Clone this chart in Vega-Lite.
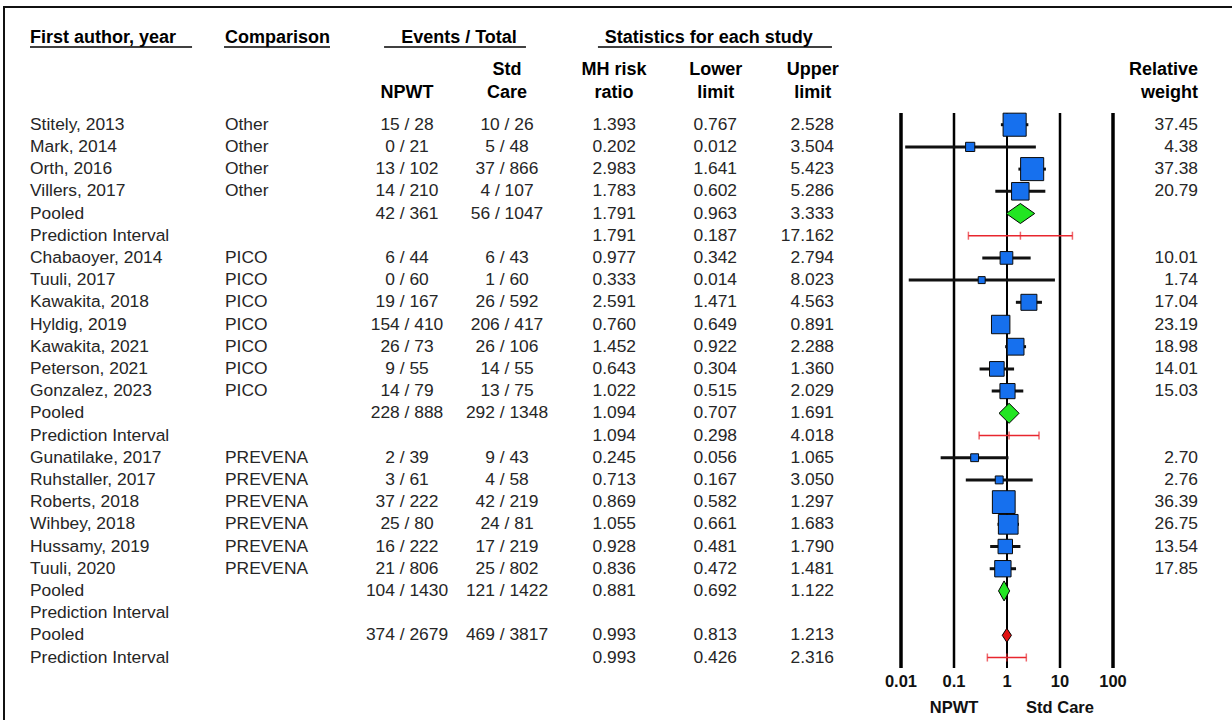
{
  "$schema": "https://vega.github.io/schema/vega-lite/v6.json",
  "width": 1232,
  "height": 720,
  "autosize": {"type": "fit", "contains": "padding"},
  "padding": {"left": 4, "top": 7, "right": -4, "bottom": -4},
  "background": "white",
  "config": {
    "view": {"stroke": "#111111", "strokeWidth": 2},
    "axis": {"disable": true},
    "legend": {"disable": true},
    "text": {"font": "Liberation Sans", "fontSize": 17.4, "color": "#262626"}
  },
  "datasets": {
    "rows": [
      {"row": 1, "label": "Stitely, 2013", "comp": "Other", "npwt": "15 / 28", "std": "10 / 26", "rr": 1.393, "lo": 0.767, "hi": 2.528, "w": 37.45, "kind": "study"},
      {"row": 2, "label": "Mark, 2014", "comp": "Other", "npwt": "0 / 21", "std": "5 / 48", "rr": 0.202, "lo": 0.012, "hi": 3.504, "w": 4.38, "kind": "study"},
      {"row": 3, "label": "Orth, 2016", "comp": "Other", "npwt": "13 / 102", "std": "37 / 866", "rr": 2.983, "lo": 1.641, "hi": 5.423, "w": 37.38, "kind": "study"},
      {"row": 4, "label": "Villers, 2017", "comp": "Other", "npwt": "14 / 210", "std": "4 / 107", "rr": 1.783, "lo": 0.602, "hi": 5.286, "w": 20.79, "kind": "study"},
      {"row": 5, "label": "Pooled", "comp": null, "npwt": "42 / 361", "std": "56 / 1047", "rr": 1.791, "lo": 0.963, "hi": 3.333, "w": null, "kind": "pooled"},
      {"row": 6, "label": "Prediction Interval", "comp": null, "npwt": null, "std": null, "rr": 1.791, "lo": 0.187, "hi": 17.162, "w": null, "kind": "pi"},
      {"row": 7, "label": "Chabaoyer, 2014", "comp": "PICO", "npwt": "6 / 44", "std": "6 / 43", "rr": 0.977, "lo": 0.342, "hi": 2.794, "w": 10.01, "kind": "study"},
      {"row": 8, "label": "Tuuli, 2017", "comp": "PICO", "npwt": "0 / 60", "std": "1 / 60", "rr": 0.333, "lo": 0.014, "hi": 8.023, "w": 1.74, "kind": "study"},
      {"row": 9, "label": "Kawakita, 2018", "comp": "PICO", "npwt": "19 / 167", "std": "26 / 592", "rr": 2.591, "lo": 1.471, "hi": 4.563, "w": 17.04, "kind": "study"},
      {"row": 10, "label": "Hyldig, 2019", "comp": "PICO", "npwt": "154 / 410", "std": "206 / 417", "rr": 0.760, "lo": 0.649, "hi": 0.891, "w": 23.19, "kind": "study"},
      {"row": 11, "label": "Kawakita, 2021", "comp": "PICO", "npwt": "26 / 73", "std": "26 / 106", "rr": 1.452, "lo": 0.922, "hi": 2.288, "w": 18.98, "kind": "study"},
      {"row": 12, "label": "Peterson, 2021", "comp": "PICO", "npwt": "9 / 55", "std": "14 / 55", "rr": 0.643, "lo": 0.304, "hi": 1.360, "w": 14.01, "kind": "study"},
      {"row": 13, "label": "Gonzalez, 2023", "comp": "PICO", "npwt": "14 / 79", "std": "13 / 75", "rr": 1.022, "lo": 0.515, "hi": 2.029, "w": 15.03, "kind": "study"},
      {"row": 14, "label": "Pooled", "comp": null, "npwt": "228 / 888", "std": "292 / 1348", "rr": 1.094, "lo": 0.707, "hi": 1.691, "w": null, "kind": "pooled"},
      {"row": 15, "label": "Prediction Interval", "comp": null, "npwt": null, "std": null, "rr": 1.094, "lo": 0.298, "hi": 4.018, "w": null, "kind": "pi"},
      {"row": 16, "label": "Gunatilake, 2017", "comp": "PREVENA", "npwt": "2 / 39", "std": "9 / 43", "rr": 0.245, "lo": 0.056, "hi": 1.065, "w": 2.70, "kind": "study"},
      {"row": 17, "label": "Ruhstaller, 2017", "comp": "PREVENA", "npwt": "3 / 61", "std": "4 / 58", "rr": 0.713, "lo": 0.167, "hi": 3.050, "w": 2.76, "kind": "study"},
      {"row": 18, "label": "Roberts, 2018", "comp": "PREVENA", "npwt": "37 / 222", "std": "42 / 219", "rr": 0.869, "lo": 0.582, "hi": 1.297, "w": 36.39, "kind": "study"},
      {"row": 19, "label": "Wihbey, 2018", "comp": "PREVENA", "npwt": "25 / 80", "std": "24 / 81", "rr": 1.055, "lo": 0.661, "hi": 1.683, "w": 26.75, "kind": "study"},
      {"row": 20, "label": "Hussamy, 2019", "comp": "PREVENA", "npwt": "16 / 222", "std": "17 / 219", "rr": 0.928, "lo": 0.481, "hi": 1.790, "w": 13.54, "kind": "study"},
      {"row": 21, "label": "Tuuli, 2020", "comp": "PREVENA", "npwt": "21 / 806", "std": "25 / 802", "rr": 0.836, "lo": 0.472, "hi": 1.481, "w": 17.85, "kind": "study"},
      {"row": 22, "label": "Pooled", "comp": null, "npwt": "104 / 1430", "std": "121 / 1422", "rr": 0.881, "lo": 0.692, "hi": 1.122, "w": null, "kind": "pooled"},
      {"row": 23, "label": "Prediction Interval", "comp": null, "npwt": null, "std": null, "rr": null, "lo": null, "hi": null, "w": null, "kind": "pi"},
      {"row": 24, "label": "Pooled", "comp": null, "npwt": "374 / 2679", "std": "469 / 3817", "rr": 0.993, "lo": 0.813, "hi": 1.213, "w": null, "kind": "overall"},
      {"row": 25, "label": "Prediction Interval", "comp": null, "npwt": null, "std": null, "rr": 0.993, "lo": 0.426, "hi": 2.316, "w": null, "kind": "pi"}
    ],
    "ticks": [
      {"v": 0.01, "lab": "0.01"},
      {"v": 0.1, "lab": "0.1"},
      {"v": 1, "lab": "1"},
      {"v": 10, "lab": "10"},
      {"v": 100, "lab": "100"}
    ],
    "sides": [
      {"side": "NPWT", "at": 0.1},
      {"side": "Std Care", "at": 10}
    ]
  },
  "layer": [
    {
      "data": {"name": "rows"},
      "layer": [
        {
          "mark": {"type": "text", "align": "left", "baseline": "middle"},
          "encoding": {
            "x": {"datum": 1, "type": "quantitative", "scale": {"type": "linear", "domain": [0,1,2,3,4,5,6,7,8,9], "range": [0,26,221,403,503,632,733,830,1194,1232], "nice": false, "zero": false}},
            "y": {"field": "row", "type": "quantitative", "scale": {"domain": [-4.302, 27.995], "reverse": true, "nice": false, "zero": false}},
            "text": {"field": "label"}
          }
        },
        {
          "transform": [{"filter": "isValid(datum.comp)"}],
          "mark": {"type": "text", "align": "left", "baseline": "middle"},
          "encoding": {
            "x": {"datum": 2, "type": "quantitative"},
            "y": {"field": "row", "type": "quantitative"},
            "text": {"field": "comp"}
          }
        },
        {
          "transform": [{"filter": "isValid(datum.npwt)"}],
          "mark": {"type": "text", "align": "center", "baseline": "middle"},
          "encoding": {
            "x": {"datum": 3, "type": "quantitative"},
            "y": {"field": "row", "type": "quantitative"},
            "text": {"field": "npwt"}
          }
        },
        {
          "transform": [{"filter": "isValid(datum.std)"}],
          "mark": {"type": "text", "align": "center", "baseline": "middle"},
          "encoding": {
            "x": {"datum": 4, "type": "quantitative"},
            "y": {"field": "row", "type": "quantitative"},
            "text": {"field": "std"}
          }
        },
        {
          "transform": [{"filter": "isValid(datum.rr)"}],
          "mark": {"type": "text", "align": "right", "baseline": "middle"},
          "encoding": {
            "x": {"datum": 5, "type": "quantitative"},
            "y": {"field": "row", "type": "quantitative"},
            "text": {"field": "rr", "type": "quantitative", "format": ".3f"}
          }
        },
        {
          "transform": [{"filter": "isValid(datum.lo)"}],
          "mark": {"type": "text", "align": "right", "baseline": "middle"},
          "encoding": {
            "x": {"datum": 6, "type": "quantitative"},
            "y": {"field": "row", "type": "quantitative"},
            "text": {"field": "lo", "type": "quantitative", "format": ".3f"}
          }
        },
        {
          "transform": [{"filter": "isValid(datum.hi)"}],
          "mark": {"type": "text", "align": "right", "baseline": "middle"},
          "encoding": {
            "x": {"datum": 7, "type": "quantitative"},
            "y": {"field": "row", "type": "quantitative"},
            "text": {"field": "hi", "type": "quantitative", "format": ".3f"}
          }
        },
        {
          "transform": [{"filter": "isValid(datum.w)"}],
          "mark": {"type": "text", "align": "right", "baseline": "middle"},
          "encoding": {
            "x": {"datum": 8, "type": "quantitative"},
            "y": {"field": "row", "type": "quantitative"},
            "text": {"field": "w", "type": "quantitative", "format": ".2f"}
          }
        },
        {"data": {"values": [{}]}, "mark": {"type": "text", "text": "First author, year", "align": "left", "baseline": "middle", "fontWeight": "bold", "fontSize": 18, "color": "#000"},
         "encoding": {"x": {"datum": 1, "type": "quantitative"}, "y": {"datum": -2.905, "type": "quantitative"}}},
        {"data": {"values": [{}]}, "mark": {"type": "text", "text": "Comparison", "align": "left", "baseline": "middle", "fontWeight": "bold", "fontSize": 18, "color": "#000"},
         "encoding": {"x": {"datum": 2, "type": "quantitative"}, "y": {"datum": -2.905, "type": "quantitative"}}},
        {"data": {"values": [{}]}, "mark": {"type": "text", "text": "Events / Total", "align": "center", "baseline": "middle", "fontWeight": "bold", "fontSize": 18, "color": "#000"},
         "encoding": {"x": {"datum": 3.52, "type": "quantitative"}, "y": {"datum": -2.905, "type": "quantitative"}}},
        {"data": {"values": [{}]}, "mark": {"type": "text", "text": "Statistics for each study", "align": "center", "baseline": "middle", "fontWeight": "bold", "fontSize": 18, "color": "#000"},
         "encoding": {"x": {"datum": 5.72, "type": "quantitative"}, "y": {"datum": -2.905, "type": "quantitative"}}},
        {"data": {"values": [{}]}, "mark": {"type": "text", "text": "Std", "align": "center", "baseline": "middle", "fontWeight": "bold", "fontSize": 18, "color": "#000"},
         "encoding": {"x": {"datum": 4, "type": "quantitative"}, "y": {"datum": -1.464, "type": "quantitative"}}},
        {"data": {"values": [{}]}, "mark": {"type": "text", "text": "MH risk", "align": "center", "baseline": "middle", "fontWeight": "bold", "fontSize": 18, "color": "#000"},
         "encoding": {"x": {"datum": 4.83, "type": "quantitative"}, "y": {"datum": -1.464, "type": "quantitative"}}},
        {"data": {"values": [{}]}, "mark": {"type": "text", "text": "Lower", "align": "center", "baseline": "middle", "fontWeight": "bold", "fontSize": 18, "color": "#000"},
         "encoding": {"x": {"datum": 5.79, "type": "quantitative"}, "y": {"datum": -1.464, "type": "quantitative"}}},
        {"data": {"values": [{}]}, "mark": {"type": "text", "text": "Upper", "align": "center", "baseline": "middle", "fontWeight": "bold", "fontSize": 18, "color": "#000"},
         "encoding": {"x": {"datum": 6.78, "type": "quantitative"}, "y": {"datum": -1.464, "type": "quantitative"}}},
        {"data": {"values": [{}]}, "mark": {"type": "text", "text": "Relative", "align": "right", "baseline": "middle", "fontWeight": "bold", "fontSize": 18, "color": "#000"},
         "encoding": {"x": {"datum": 8, "type": "quantitative"}, "y": {"datum": -1.464, "type": "quantitative"}}},
        {"data": {"values": [{}]}, "mark": {"type": "text", "text": "NPWT", "align": "center", "baseline": "middle", "fontWeight": "bold", "fontSize": 18, "color": "#000"},
         "encoding": {"x": {"datum": 3, "type": "quantitative"}, "y": {"datum": -0.428, "type": "quantitative"}}},
        {"data": {"values": [{}]}, "mark": {"type": "text", "text": "Care", "align": "center", "baseline": "middle", "fontWeight": "bold", "fontSize": 18, "color": "#000"},
         "encoding": {"x": {"datum": 4, "type": "quantitative"}, "y": {"datum": -0.428, "type": "quantitative"}}},
        {"data": {"values": [{}]}, "mark": {"type": "text", "text": "ratio", "align": "center", "baseline": "middle", "fontWeight": "bold", "fontSize": 18, "color": "#000"},
         "encoding": {"x": {"datum": 4.83, "type": "quantitative"}, "y": {"datum": -0.428, "type": "quantitative"}}},
        {"data": {"values": [{}]}, "mark": {"type": "text", "text": "limit", "align": "center", "baseline": "middle", "fontWeight": "bold", "fontSize": 18, "color": "#000"},
         "encoding": {"x": {"datum": 5.79, "type": "quantitative"}, "y": {"datum": -0.428, "type": "quantitative"}}},
        {"data": {"values": [{}]}, "mark": {"type": "text", "text": "limit", "align": "center", "baseline": "middle", "fontWeight": "bold", "fontSize": 18, "color": "#000"},
         "encoding": {"x": {"datum": 6.78, "type": "quantitative"}, "y": {"datum": -0.428, "type": "quantitative"}}},
        {"data": {"values": [{}]}, "mark": {"type": "text", "text": "weight", "align": "right", "baseline": "middle", "fontWeight": "bold", "fontSize": 18, "color": "#000"},
         "encoding": {"x": {"datum": 8, "type": "quantitative"}, "y": {"datum": -0.428, "type": "quantitative"}}},
        {"data": {"values": [{}]}, "mark": {"type": "rule", "color": "#000", "strokeWidth": 1.5},
         "encoding": {"x": {"datum": 1, "type": "quantitative"}, "x2": {"datum": 1.831}, "y": {"datum": -2.5, "type": "quantitative"}}},
        {"data": {"values": [{}]}, "mark": {"type": "rule", "color": "#000", "strokeWidth": 1.5},
         "encoding": {"x": {"datum": 1.995, "type": "quantitative"}, "x2": {"datum": 2.577}, "y": {"datum": -2.5, "type": "quantitative"}}},
        {"data": {"values": [{}]}, "mark": {"type": "rule", "color": "#000", "strokeWidth": 1.5},
         "encoding": {"x": {"datum": 2.874, "type": "quantitative"}, "x2": {"datum": 4.147}, "y": {"datum": -2.5, "type": "quantitative"}}},
        {"data": {"values": [{}]}, "mark": {"type": "rule", "color": "#000", "strokeWidth": 1.5},
         "encoding": {"x": {"datum": 4.705, "type": "quantitative"}, "x2": {"datum": 6.979}, "y": {"datum": -2.5, "type": "quantitative"}}}
      ]
    },
    {
      "layer": [
        {
          "data": {"name": "ticks"},
          "mark": {"type": "rule", "color": "#000"},
          "encoding": {
            "x": {"field": "v", "type": "quantitative", "scale": {"type": "log", "domain": [0.01, 100], "range": [897, 1109], "nice": false}},
            "y": {"datum": 0.473, "type": "quantitative"},
            "y2": {"datum": 25.47},
            "strokeWidth": {"field": "v", "type": "quantitative", "scale": {"type": "threshold", "domain": [0.05, 0.5, 5, 50], "range": [3.5, 2.5, 2, 2.5, 3.5]}, "legend": null}
          }
        },
        {
          "data": {"name": "ticks"},
          "mark": {"type": "text", "align": "center", "baseline": "middle", "fontWeight": "bold", "fontSize": 16.5, "color": "#111"},
          "encoding": {
            "x": {"field": "v", "type": "quantitative"},
            "y": {"datum": 26.1, "type": "quantitative"},
            "text": {"field": "lab"}
          }
        },
        {
          "data": {"name": "sides"},
          "mark": {"type": "text", "align": "center", "baseline": "middle", "fontWeight": "bold", "fontSize": 16.5, "color": "#111"},
          "encoding": {
            "x": {"field": "at", "type": "quantitative"},
            "y": {"datum": 27.27, "type": "quantitative"},
            "text": {"field": "side"}
          }
        },
        {
          "data": {"name": "rows"},
          "transform": [{"filter": "datum.kind == 'pi' && isValid(datum.rr)"}],
          "mark": {"type": "rule", "color": "#e8262e", "strokeWidth": 1.5},
          "encoding": {
            "x": {"field": "lo", "type": "quantitative"},
            "x2": {"field": "hi"},
            "y": {"field": "row", "type": "quantitative"}
          }
        },
        {
          "data": {"name": "rows"},
          "transform": [{"filter": "datum.kind == 'pi' && isValid(datum.rr)"}, {"fold": ["lo", "rr", "hi"], "as": ["k", "v"]}],
          "mark": {"type": "tick", "orient": "vertical", "color": "#e8262e", "size": 8, "thickness": 1.5},
          "encoding": {
            "x": {"field": "v", "type": "quantitative"},
            "y": {"field": "row", "type": "quantitative"}
          }
        },
        {
          "data": {"name": "rows"},
          "transform": [{"filter": "datum.kind == 'study'"}],
          "mark": {"type": "rule", "color": "#111", "strokeWidth": 3},
          "encoding": {
            "x": {"field": "lo", "type": "quantitative"},
            "x2": {"field": "hi"},
            "y": {"field": "row", "type": "quantitative"}
          }
        },
        {
          "data": {"name": "rows"},
          "transform": [{"filter": "datum.kind == 'study'"}],
          "mark": {"type": "point", "shape": "square", "filled": true, "fill": "#1670ee", "stroke": "#0a0a0a", "strokeWidth": 1, "opacity": 1},
          "encoding": {
            "x": {"field": "rr", "type": "quantitative"},
            "y": {"field": "row", "type": "quantitative"},
            "size": {"field": "w", "type": "quantitative", "scale": {"domain": [0, 37.6], "range": [25, 535], "zero": true}, "legend": null}
          }
        },
        {
          "data": {"name": "rows"},
          "transform": [{"filter": "datum.kind == 'pooled'"}, {"fold": ["lo", "rr", "hi"], "as": ["k", "v"]}],
          "mark": {"type": "area", "orient": "vertical", "fill": "#22e622", "stroke": "#000", "strokeWidth": 1, "opacity": 1,
                   "yOffset": {"expr": "datum.k === 'rr' ? -10 : 0"}, "y2Offset": {"expr": "datum.k === 'rr' ? 10 : 0"}},
          "encoding": {
            "x": {"field": "v", "type": "quantitative"},
            "y": {"field": "row", "type": "quantitative", "stack": null},
            "y2": {"field": "row"},
            "detail": {"field": "row"}
          }
        },
        {
          "data": {"name": "rows"},
          "transform": [{"filter": "datum.kind == 'overall'"}, {"fold": ["lo", "rr", "hi"], "as": ["k", "v"]}],
          "mark": {"type": "area", "orient": "vertical", "fill": "#e01010", "stroke": "#000", "strokeWidth": 1, "opacity": 1,
                   "yOffset": {"expr": "datum.k === 'rr' ? -7 : 0"}, "y2Offset": {"expr": "datum.k === 'rr' ? 7 : 0"}},
          "encoding": {
            "x": {"field": "v", "type": "quantitative"},
            "y": {"field": "row", "type": "quantitative", "stack": null},
            "y2": {"field": "row"},
            "detail": {"field": "row"}
          }
        }
      ]
    }
  ],
  "resolve": {"scale": {"x": "independent"}}
}
